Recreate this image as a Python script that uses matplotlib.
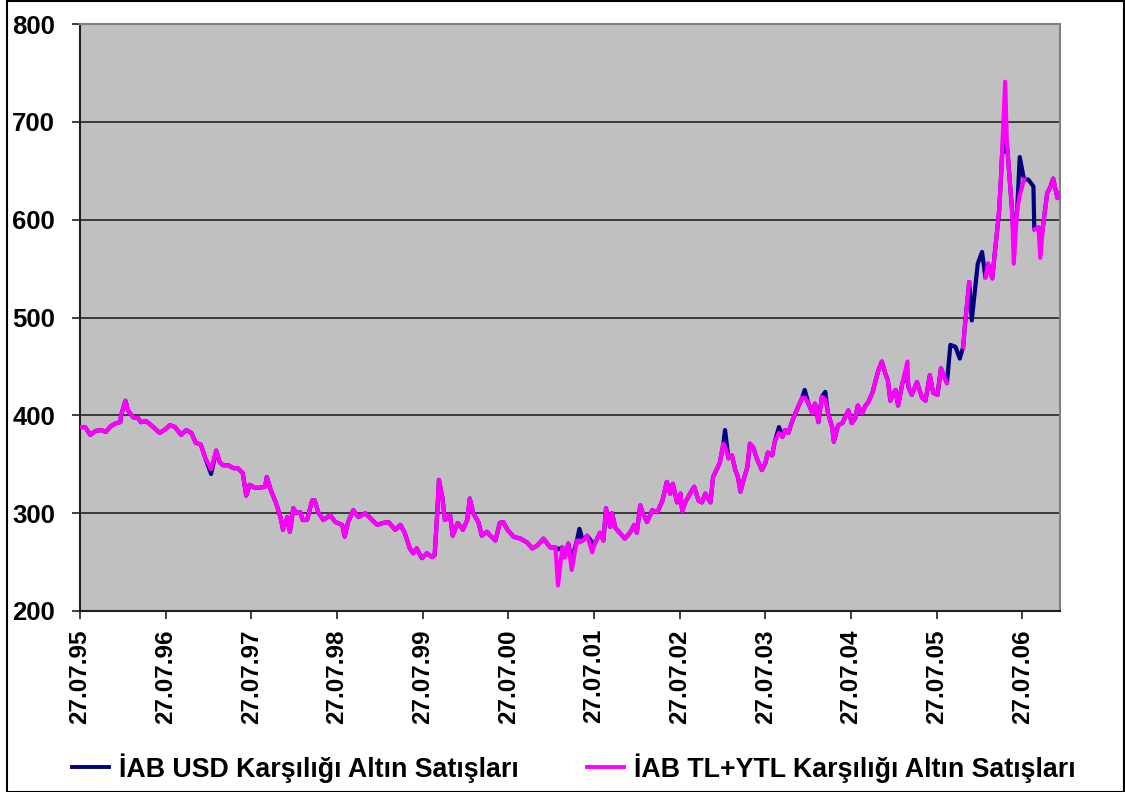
"""Gold sales chart: USD vs TL+YTL (1995-2006)."""
import numpy as np
import matplotlib
matplotlib.use("Agg")
import matplotlib.pyplot as plt
from matplotlib.lines import Line2D
from matplotlib.patches import Rectangle

nan = np.nan

# years elapsed since 27.07.1995
years = [
    0.00, 0.06, 0.12, 0.18, 0.25, 0.30, 0.36, 0.42, 0.47, 0.48,
    0.53, 0.56, 0.62, 0.68, 0.71, 0.77, 0.83, 0.93, 1.00, 1.05,
    1.11, 1.18, 1.24, 1.30, 1.35, 1.41, 1.46, 1.53, 1.59, 1.63,
    1.67, 1.73, 1.79, 1.84, 1.90, 1.94, 1.98, 2.04, 2.10, 2.16,
    2.18, 2.23, 2.29, 2.34, 2.37, 2.42, 2.45, 2.49, 2.53, 2.57,
    2.60, 2.65, 2.71, 2.74, 2.78, 2.84, 2.92, 2.98, 3.06, 3.09,
    3.13, 3.19, 3.25, 3.33, 3.41, 3.47, 3.54, 3.60, 3.68, 3.74,
    3.79, 3.85, 3.89, 3.93, 3.99, 4.05, 4.11, 4.14, 4.17, 4.19,
    4.23, 4.26, 4.32, 4.35, 4.41, 4.47, 4.52, 4.55, 4.59, 4.65,
    4.69, 4.75, 4.79, 4.85, 4.90, 4.94, 4.99, 5.06, 5.14, 5.22,
    5.28, 5.34, 5.41, 5.49, 5.55, 5.58, 5.63, 5.66, 5.70, 5.74,
    5.80, 5.83, 5.87, 5.92, 5.98, 6.01, 6.07, 6.11, 6.14, 6.19,
    6.21, 6.25, 6.30, 6.36, 6.42, 6.47, 6.50, 6.54, 6.57, 6.62,
    6.68, 6.74, 6.80, 6.85, 6.89, 6.92, 6.97, 7.01, 7.03, 7.06,
    7.12, 7.17, 7.22, 7.26, 7.30, 7.36, 7.39, 7.44, 7.47, 7.51,
    7.53, 7.57, 7.61, 7.65, 7.68, 7.71, 7.74, 7.79, 7.82, 7.86,
    7.90, 7.96, 8.00, 8.03, 8.08, 8.11, 8.16, 8.20, 8.23, 8.27,
    8.31, 8.35, 8.38, 8.43, 8.46, 8.50, 8.55, 8.58, 8.62, 8.66,
    8.70, 8.73, 8.78, 8.80, 8.85, 8.90, 8.93, 8.97, 9.01, 9.05,
    9.08, 9.13, 9.17, 9.20, 9.25, 9.28, 9.32, 9.36, 9.40, 9.43,
    9.46, 9.52, 9.55, 9.60, 9.66, 9.67, 9.71, 9.77, 9.83, 9.87,
    9.92, 9.96, 10.01, 10.05, 10.12, 10.16, 10.22, 10.27, 10.31, 10.33,
    10.38, 10.41, 10.45, 10.48, 10.53, 10.57, 10.60, 10.65, 10.68, 10.71,
    10.73, 10.75, 10.76, 10.78, 10.80, 10.82, 10.85, 10.88, 10.90, 10.94,
    10.97, 11.02, 11.07, 11.13, 11.14, 11.19, 11.21, 11.24, 11.29, 11.33,
    11.36, 11.41, 11.43,
]

usd = [
    388, 388, 380, 384, 385, 383, 389, 392, 393, 400,
    415, 405, 398, 397, 393, 394, 390, 382, 386, 390,
    388, 380, 385, 382, 372, 370, 357, 340, 364, 352,
    349, 349, 346, 346, 341, 318, 329, 326, 326, 327,
    337, 323, 310, 296, 283, 296, 281, 305, 300, 301,
    293, 293, 313, 313, 301, 293, 298, 291, 288, 276,
    291, 303, 296, 300, 293, 288, 290, 291, 283, 288,
    280, 264, 259, 264, 254, 259, 255, 257, 300, 334,
    316, 293, 298, 277, 290, 283, 293, 315, 300, 291,
    277, 281, 277, 272, 290, 291, 283, 276, 274, 270,
    264, 267, 274, 265, 265, 263, 265, 255, 269, 252,
    272, 284, 272, 277, 270, 269, 280, 272, 305, 286,
    300, 285, 280, 274, 280, 288, 280, 308, 300, 291,
    303, 301, 313, 332, 320, 330, 311, 320, 302, 310,
    320, 327, 313, 311, 320, 311, 337, 346, 352, 371,
    385, 356, 359, 344, 337, 322, 332, 347, 371, 367,
    356, 344, 351, 362, 359, 373, 388, 378, 385, 382,
    393, 402, 408, 418, 426, 413, 402, 412, 393, 419,
    424, 403, 388, 373, 390, 392, 398, 405, 392, 397,
    410, 402, 410, 413, 423, 433, 446, 455, 443, 436,
    415, 426, 410, 433, 440, 429, 421, 434, 418, 415,
    441, 423, 421, 448, 433, 472, 470, 458, 470, 492,
    536, 497, 530, 555, 567, 541, 555, 540, 567, 592,
    610, 641, 661, 684, 670, 678, 644, 610, 582, 610,
    664, 641, 641, 634, 590, 592, 575, 592, 627, 634,
    642, 622, 627,
]

tl = [
    388, 388, 380, 384, 385, 383, 389, 392, 393, 400,
    415, 405, 398, 397, 393, 394, 390, 382, 386, 390,
    388, 380, 385, 382, 372, 370, 357, 345, 364, 352,
    349, 349, 346, 346, 341, 318, 329, 326, 326, 327,
    337, 323, 310, 296, 283, 296, 281, 305, 300, 301,
    293, 293, 313, 313, 301, 293, 298, 291, 288, 276,
    291, 303, 296, 300, 293, 288, 290, 291, 283, 288,
    280, 264, 259, 264, 254, 259, 255, 257, 300, 334,
    316, 293, 298, 277, 290, 283, 293, 315, 300, 291,
    277, 281, 277, 272, 290, 291, 283, 276, 274, 270,
    264, 267, 274, 265, 265, 226, 265, 255, 269, 242,
    272, 270, 272, 277, 260, 269, 280, 272, 305, 286,
    300, 285, 280, 274, 280, 288, 280, 308, 300, 291,
    303, 301, 313, 332, 320, 330, 311, 320, 302, 310,
    320, 327, 313, 311, 320, 311, 337, 346, 352, 371,
    368, 356, 359, 344, 337, 322, 332, 347, 371, 367,
    356, 344, 351, 362, 359, 373, 382, 378, 385, 382,
    393, 402, 408, 418, 418, 413, 402, 412, 393, 419,
    416, 403, 388, 373, 390, 392, 398, 405, 392, 397,
    410, 402, 410, 413, 423, 433, 446, 455, 443, 436,
    415, 426, 410, 433, 455, 429, 421, 434, 418, 415,
    441, 423, 421, 448, 433, nan, nan, nan, 470, 492,
    536, nan, nan, nan, nan, 541, 555, 540, 567, 592,
    610, 641, 661, 700, 741, 678, 644, 610, 555, 610,
    625, 641, nan, nan, 590, 592, 561, 592, 627, 634,
    642, 622, 627,
]

tick_labels = ["27.07.95", "27.07.96", "27.07.97", "27.07.98", "27.07.99",
               "27.07.00", "27.07.01", "27.07.02", "27.07.03", "27.07.04",
               "27.07.05", "27.07.06"]

usd_label = "İAB USD Karşılığı Altın Satışları"
tl_label = "İAB TL+YTL Karşılığı Altın Satışları"

plt.rcParams["font.family"] = ["Liberation Sans", "DejaVu Sans"]
plt.rcParams["font.weight"] = "bold"

fig = plt.figure(figsize=(11.25, 7.92), dpi=100)
ax = fig.add_axes([80 / 1125, 1 - 611 / 792, 980 / 1125, 587 / 792])
ax.set_facecolor("#C0C0C0")

ax.plot(years, usd, color="#000080", lw=3.0, solid_joinstyle="round", zorder=3)
ax.plot(years, tl, color="#FF00FF", lw=3.0, solid_joinstyle="round", zorder=4)

ax.set_xlim(0, 11.44)
ax.set_ylim(200, 800)
ax.set_yticks(range(200, 801, 100))
ax.set_xticks(range(len(tick_labels)))
ax.set_xticklabels(tick_labels, rotation=90, fontsize=17.5, fontweight="bold")
for lab in ax.get_yticklabels():
    lab.set_fontsize(18.5)
    lab.set_fontweight("bold")
ax.tick_params(axis="both", direction="out", length=6, width=1.2, color="#202020")
ax.tick_params(axis="y", pad=12)
ax.tick_params(axis="x", pad=7)

ax.grid(axis="y", color="#303030", lw=1.3)
ax.set_axisbelow(True)
for side in ("left", "bottom"):
    ax.spines[side].set_color("#202020")
    ax.spines[side].set_linewidth(1.5)
for side in ("top", "right"):
    ax.spines[side].set_color("#808080")
    ax.spines[side].set_linewidth(1.5)

handles = [Line2D([], [], color="#000080", lw=2.8),
           Line2D([], [], color="#FF00FF", lw=2.8)]
fig.legend(handles, [usd_label, tl_label], loc="center",
           bbox_to_anchor=(574 / 1125, 1 - 768 / 792), ncol=2, frameon=False,
           prop={"size": 19.3, "weight": "bold"}, handlelength=1.36,
           handletextpad=0.38, columnspacing=2.55)

fig.patches.append(Rectangle((7 / 1125, 0.5 / 792), 1 - 8 / 1125, 1 - 1.5 / 792,
                             transform=fig.transFigure, fill=False,
                             ec="black", lw=1.5))

fig.savefig("out.png", dpi=100)
